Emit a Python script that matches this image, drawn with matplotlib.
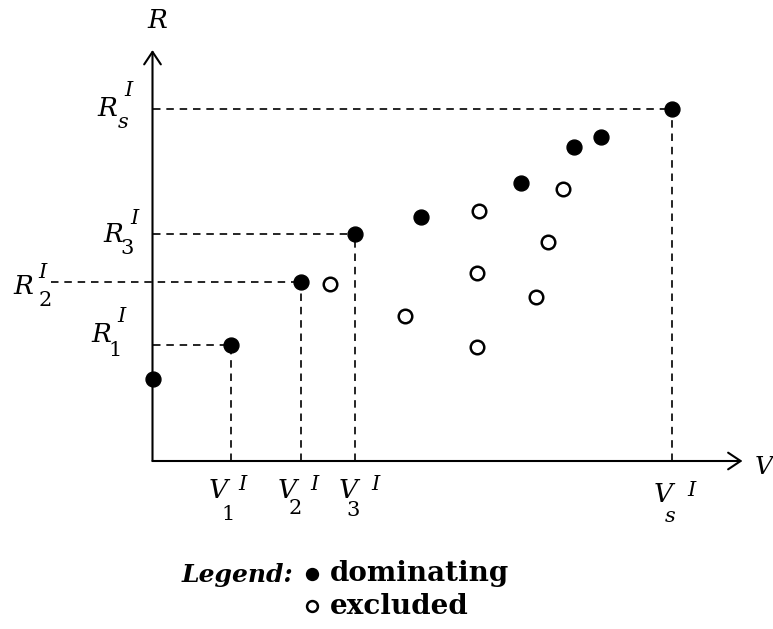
#!/usr/bin/env python3
"""Dominating vs excluded points in the (V, R) plane."""

import matplotlib

matplotlib.use("Agg")
import matplotlib.pyplot as plt
from matplotlib.patches import FancyArrowPatch

plt.rcParams["font.family"] = ["DejaVu Serif"]

# --------------------------------------------------------------------------- #
#  data (arbitrary units, origin at the axis corner)
# --------------------------------------------------------------------------- #

dom_v = [0, 78, 148, 202, 268, 368, 421, 448, 519]
dom_r = [82, 116, 179, 227, 244, 278, 314, 324, 352]

exc_v = [177, 252, 326, 324, 324, 395, 383, 410]
exc_r = [177, 145, 250, 188, 114, 219, 164, 272]

# dominating points that get dashed guide lines, and their subscripts
marked = [1, 2, 3, 8]
marked_sub = ["1", "2", "3", "s"]

V_MAX = 590
R_MAX = 411

# --------------------------------------------------------------------------- #
#  figure
# --------------------------------------------------------------------------- #

fig = plt.figure(figsize=(7.73, 6.29), dpi=100)
ax = fig.add_axes([0, 0, 1, 1])
ax.set_xlim(-152.5, 620.5)
ax.set_ylim(-168, 461)
ax.axis("off")

# axes with open arrow heads
for end in [(V_MAX, 0), (0, R_MAX)]:
    ax.add_patch(
        FancyArrowPatch(
            (0, 0),
            end,
            arrowstyle="->,head_length=0.45,head_width=0.3",
            mutation_scale=20,
            lw=1.5,
            color="black",
            shrinkA=0,
            shrinkB=0,
            zorder=2,
        )
    )

# dashed guide lines
dash = dict(color="black", lw=1.2, dashes=(4.5, 3.5), zorder=1)
for i in marked:
    x0 = -102 if i == 2 else 0
    ax.plot([x0, dom_v[i]], [dom_r[i], dom_r[i]], **dash)
    ax.plot([dom_v[i], dom_v[i]], [0, dom_r[i]], **dash)

dom = ax.scatter(dom_v, dom_r, s=115, c="black", marker="o", zorder=3, clip_on=False)
exc = ax.scatter(
    exc_v, exc_r, s=95, facecolors="white", edgecolors="black",
    linewidths=1.8, marker="o", zorder=3,
)

# --------------------------------------------------------------------------- #
#  labels
# --------------------------------------------------------------------------- #

big = dict(fontsize=19, style="italic", ha="center", va="center")
small = dict(fontsize=15, style="italic", ha="center", va="center")
sub = dict(fontsize=15, ha="center", va="center")


def put(x, y, dx, dy, s, **kw):
    ax.annotate(s, (x, y), xytext=(dx, -dy), textcoords="offset pixels", **kw)


# R-axis labels: offsets (pixels) of R, I, subscript from (0, R_i)
r_offsets = {
    "1": [(-51, -11), (-31, -29), (-37, 6)],
    "2": [(-129, 5), (-110, -10), (-107, 19)],
    "3": [(-39, 0), (-18, -16), (-25, 14)],
    "s": [(-45, 0), (-24, -18), (-29, 13)],
}
# V-axis labels: offsets of V, I, subscript from (V_i, 0)
v_offsets = {
    "1": [(-12, 29), (12, 24), (-2, 53)],
    "2": [(-13, 29), (14, 24), (-5, 48)],
    "3": [(-6, 29), (21, 24), (-1, 50)],
    "s": [(-8, 34), (20, 30), (-1, 56)],
}

for i, s in zip(marked, marked_sub):
    (rx, ry), (ix, iy), (sx, sy) = r_offsets[s]
    put(0, dom_r[i], rx, ry, "R", **big)
    put(0, dom_r[i], ix, iy, "I", **small)
    put(0, dom_r[i], sx, sy, s, **(small if s == "s" else sub))

    (vx, vy), (ix, iy), (sx, sy) = v_offsets[s]
    put(dom_v[i], 0, vx, vy, "V", **big)
    put(dom_v[i], 0, ix, iy, "I", **small)
    put(dom_v[i], 0, sx, sy, s, **(small if s == "s" else sub))

# axis names (the V sits at the right edge)
put(0, R_MAX, 5, -29, "R", **big)
put(V_MAX, 0, 12, 6, "V", fontsize=18, style="italic", ha="left", va="center")

# --------------------------------------------------------------------------- #
#  legend
# --------------------------------------------------------------------------- #

fig.text(293 / 773, 1 - 575 / 629, "Legend:", fontsize=18, style="italic",
         weight="bold", ha="right", va="center")
fig.legend(
    [dom, exc],
    ["dominating", "excluded"],
    loc="upper left",
    bbox_to_anchor=(301 / 773, 1 - 560 / 629),
    frameon=False,
    prop=dict(size=20, weight="bold"),
    handlelength=0.8,
    handletextpad=0.25,
    labelspacing=0.2,
    borderpad=0,
    borderaxespad=0,
    markerscale=0.8,
)

fig.savefig("out.png", dpi=100, facecolor="white")
